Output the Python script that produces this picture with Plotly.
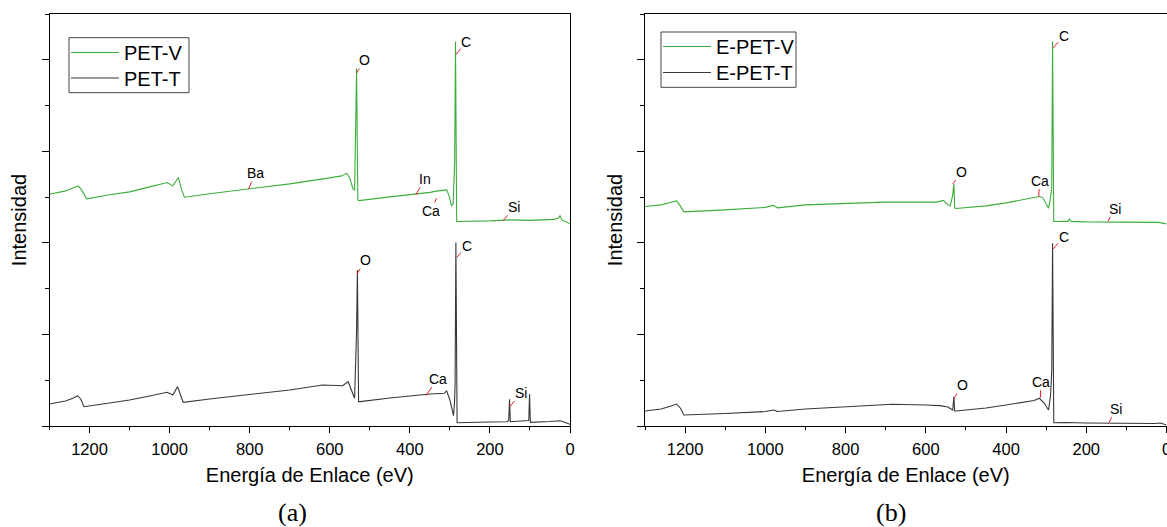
import plotly.graph_objects as go

# ---------------- data ----------------
# Panel (a)
pet_v_ev = [1300, 1260, 1240, 1228, 1220, 1207, 1150, 1100, 1050, 1006, 992, 978, 970, 963,
            900, 800, 700, 600, 570, 558, 550, 542, 538, 535, 533, 530, 527, 450, 400, 350,
            330, 312, 308, 302, 296, 292, 289, 288, 286, 283, 200, 150, 100, 40, 29, 25, 20, 10, 0]
pet_v_int = [2.532, 2.568, 2.601, 2.623, 2.579, 2.481, 2.525, 2.557, 2.612, 2.659, 2.623, 2.714, 2.579, 2.499,
             2.536, 2.590, 2.645, 2.710, 2.732, 2.762, 2.710, 2.587, 2.579, 3.344, 3.909, 2.470, 2.462, 2.503, 2.525, 2.552,
             2.568, 2.572, 2.579, 2.514, 2.404, 2.426, 2.874, 2.880, 4.200, 2.233, 2.240, 2.251, 2.246, 2.257, 2.270, 2.295, 2.251, 2.230, 2.208]

pet_t_ev = [1300, 1260, 1240, 1230, 1222, 1214, 1150, 1100, 1050, 1006, 992, 980, 972, 966,
            900, 775, 700, 618, 568, 554, 545, 538, 533, 531, 528, 524, 450, 400, 350, 314,
            308, 300, 291, 288.5, 287, 285, 282, 200, 157, 153, 151, 149, 110, 103, 101, 99, 50, 25, 15, 0]
pet_t_int = [0.240, 0.273, 0.306, 0.331, 0.295, 0.211, 0.251, 0.284, 0.328, 0.368, 0.339, 0.430, 0.328, 0.259,
             0.295, 0.357, 0.393, 0.448, 0.440, 0.484, 0.393, 0.303, 1.049, 1.705, 0.266, 0.266, 0.306, 0.328, 0.350, 0.357,
             0.383, 0.284, 0.113, 0.251, 0.450, 2.003, 0.036, 0.044, 0.047, 0.060, 0.292, 0.047, 0.055, 0.060, 0.350, 0.040,
             0.049, 0.058, 0.044, 0.019]

# Panel (b)
epet_v_ev = [1300, 1260, 1235, 1221, 1212, 1203, 1100, 1000, 980, 970, 900, 800, 702, 600, 574, 556,
             545, 539, 533, 530, 528, 525, 450, 400, 349, 330, 317, 308, 300, 294, 290, 286, 284, 281,
             260, 246, 242, 238, 200, 100, 20, 0]
epet_v_int = [2.397, 2.415, 2.443, 2.459, 2.404, 2.339, 2.361, 2.388, 2.410, 2.383, 2.415, 2.432, 2.445, 2.445, 2.445, 2.464,
              2.415, 2.404, 2.525, 2.645, 2.383, 2.375, 2.404, 2.437, 2.478, 2.492, 2.506, 2.492, 2.426, 2.379, 2.470, 2.600, 4.200, 2.233,
              2.235, 2.235, 2.262, 2.235, 2.230, 2.230, 2.224, 2.208]

epet_t_ev = [1300, 1260, 1235, 1221, 1212, 1203, 1100, 1000, 978, 970, 900, 800, 684, 600, 565, 545,
             533, 530, 528, 525, 450, 400, 349, 330, 317, 305, 294, 289, 286, 284, 281, 250, 200, 100, 30, 15, 0]
epet_t_int = [0.164, 0.186, 0.219, 0.240, 0.197, 0.120, 0.137, 0.158, 0.175, 0.158, 0.186, 0.213, 0.237, 0.230, 0.222, 0.208,
              0.175, 0.320, 0.164, 0.164, 0.197, 0.230, 0.266, 0.279, 0.303, 0.251, 0.175, 0.339, 0.600, 1.997, 0.036, 0.038,
              0.033, 0.027, 0.027, 0.033, 0.011]

# peak labels (text, energy, intensity at the leader-line start)
labels_a_text = ["O", "C", "Ba", "In", "Ca", "Si", "O", "C", "Ca", "Si"]
labels_a_ev = [533, 285, 803, 385, 333, 167, 532, 283, 360, 150]
labels_a_int = [3.855, 4.055, 2.587, 2.525, 2.489, 2.240, 1.658, 1.839, 0.331, 0.211]

labels_b_text = ["O", "Ca", "C", "Si", "C", "O", "Ca", "Si"]
labels_b_ev = [533, 318.5, 283.5, 146, 283.5, 531, 314, 143.5]
labels_b_int = [2.642, 2.506, 4.128, 2.233, 1.931, 0.295, 0.309, 0.036]

# ---------------- styling ----------------
W, H = 1167, 527
GREEN = "#3cae3c"
DARK = "#383838"
FONT = "Liberation Sans, Arial, sans-serif"

# text offsets (px) of each label relative to its leader-line start
offsets_a = [(8, -13), (10, -13), (7, -16), (9, -16), (-6, 13), (11, -14), (8, -14), (10, -12), (12, -17), (11, -14)]
offsets_b = [(9, -12), (1, -16), (11, -12), (7, -13), (11, -12), (9, -14), (0, -16), (7, -14)]

fig = go.Figure()
fig.add_trace(go.Scatter(x=pet_v_ev, y=pet_v_int, mode="lines", name="PET-V",
                         line=dict(color=GREEN, width=1.1), xaxis="x", yaxis="y", legend="legend"))
fig.add_trace(go.Scatter(x=pet_t_ev, y=pet_t_int, mode="lines", name="PET-T",
                         line=dict(color=DARK, width=1.1), xaxis="x", yaxis="y", legend="legend3"))
fig.add_trace(go.Scatter(x=epet_v_ev, y=epet_v_int, mode="lines", name="E-PET-V",
                         line=dict(color=GREEN, width=1.1), xaxis="x2", yaxis="y2", legend="legend2"))
fig.add_trace(go.Scatter(x=epet_t_ev, y=epet_t_int, mode="lines", name="E-PET-T",
                         line=dict(color=DARK, width=1.1), xaxis="x2", yaxis="y2", legend="legend4"))

ydom = [(H - 426) / H, (H - 14) / H]


def xaxis_style(domain, anchor):
    return dict(domain=domain, anchor=anchor, range=[1300, 0], tickmode="linear", tick0=0, dtick=200,
                ticks="outside", ticklen=6, tickwidth=1, tickcolor="black",
                minor=dict(dtick=100, ticks="outside", ticklen=3, tickcolor="black", tickwidth=1),
                showline=True, linecolor="black", linewidth=1, mirror=True,
                showgrid=False, zeroline=False, automargin=False, ticklabeloverflow="allow",
                tickfont=dict(family=FONT, size=16.5, color="black"), ticklabelstandoff=2,
                title=dict(text="Energía de Enlace (eV)", font=dict(family=FONT, size=20, color="black"), standoff=11))


def yaxis_style(anchor):
    return dict(domain=ydom, anchor=anchor, range=[0, 4.5], tickmode="linear", tick0=0, dtick=1,
                ticks="outside", ticklen=7, tickwidth=1, tickcolor="black",
                minor=dict(dtick=0.5, ticks="outside", ticklen=4, tickcolor="black", tickwidth=1),
                showticklabels=False, showline=True, linecolor="black", linewidth=1, mirror=True,
                showgrid=False, zeroline=False, automargin=False,
                title=dict(text="Intensidad", font=dict(family=FONT, size=20, color="black"), standoff=9))


annotations = []
for txt, ev, inten, (dx, dy) in zip(labels_a_text, labels_a_ev, labels_a_int, offsets_a):
    annotations.append(dict(x=ev, y=inten, xref="x", yref="y", text=txt, showarrow=True, arrowhead=0,
                            arrowwidth=1, arrowcolor="#e8202a", ax=dx, ay=dy, standoff=0, borderpad=0,
                            font=dict(family=FONT, size=14, color="black")))
for txt, ev, inten, (dx, dy) in zip(labels_b_text, labels_b_ev, labels_b_int, offsets_b):
    annotations.append(dict(x=ev, y=inten, xref="x2", yref="y2", text=txt, showarrow=True, arrowhead=0,
                            arrowwidth=1, arrowcolor="#e8202a", ax=dx, ay=dy, standoff=0, borderpad=0,
                            font=dict(family=FONT, size=14, color="black")))

for txt, xc in (("(a)", 292), ("(b)", 891)):
    annotations.append(dict(x=xc / W, y=1 - 512 / H, xref="paper", yref="paper", text=txt, showarrow=False,
                            xanchor="center", yanchor="middle",
                            font=dict(family="Liberation Serif, Times New Roman, serif", size=26, color="black")))

# one legend per entry so the rows can sit as tightly as in the reference; a frame is drawn around each pair
legend_common = dict(xanchor="left", yanchor="middle", borderwidth=0, bgcolor="rgba(0,0,0,0)",
                     font=dict(family=FONT, size=20, color="black"), itemwidth=48)

frames = [(69, 37.7, 189, 92.7), (661, 32, 796, 87.3)]
shapes = [dict(type="rect", xref="paper", yref="paper", x0=x0 / W, x1=x1 / W, y0=1 - y1 / H, y1=1 - y0 / H,
               line=dict(color="#444444", width=1), fillcolor="rgba(0,0,0,0)", layer="above")
          for x0, y0, x1, y1 in frames]

fig.update_layout(
    width=W, height=H, margin=dict(l=0, r=0, t=0, b=0),
    paper_bgcolor="white", plot_bgcolor="white",
    xaxis=xaxis_style([49.5 / W, 570 / W], "y"),
    yaxis=yaxis_style("x"),
    xaxis2=xaxis_style([645 / W, 1166.5 / W], "y2"),
    yaxis2=yaxis_style("x2"),
    legend=dict(x=66 / W, y=1 - 52.5 / H, **legend_common),
    legend3=dict(x=66 / W, y=1 - 78 / H, **legend_common),
    legend2=dict(x=658 / W, y=1 - 46.5 / H, **legend_common),
    legend4=dict(x=658 / W, y=1 - 72.5 / H, **legend_common),
    annotations=annotations,
    shapes=shapes,
    showlegend=True,
)

fig.write_html("out.html", config={"displayModeBar": False},
               post_script="document.body.style.margin='0';document.body.style.overflow='hidden';")
